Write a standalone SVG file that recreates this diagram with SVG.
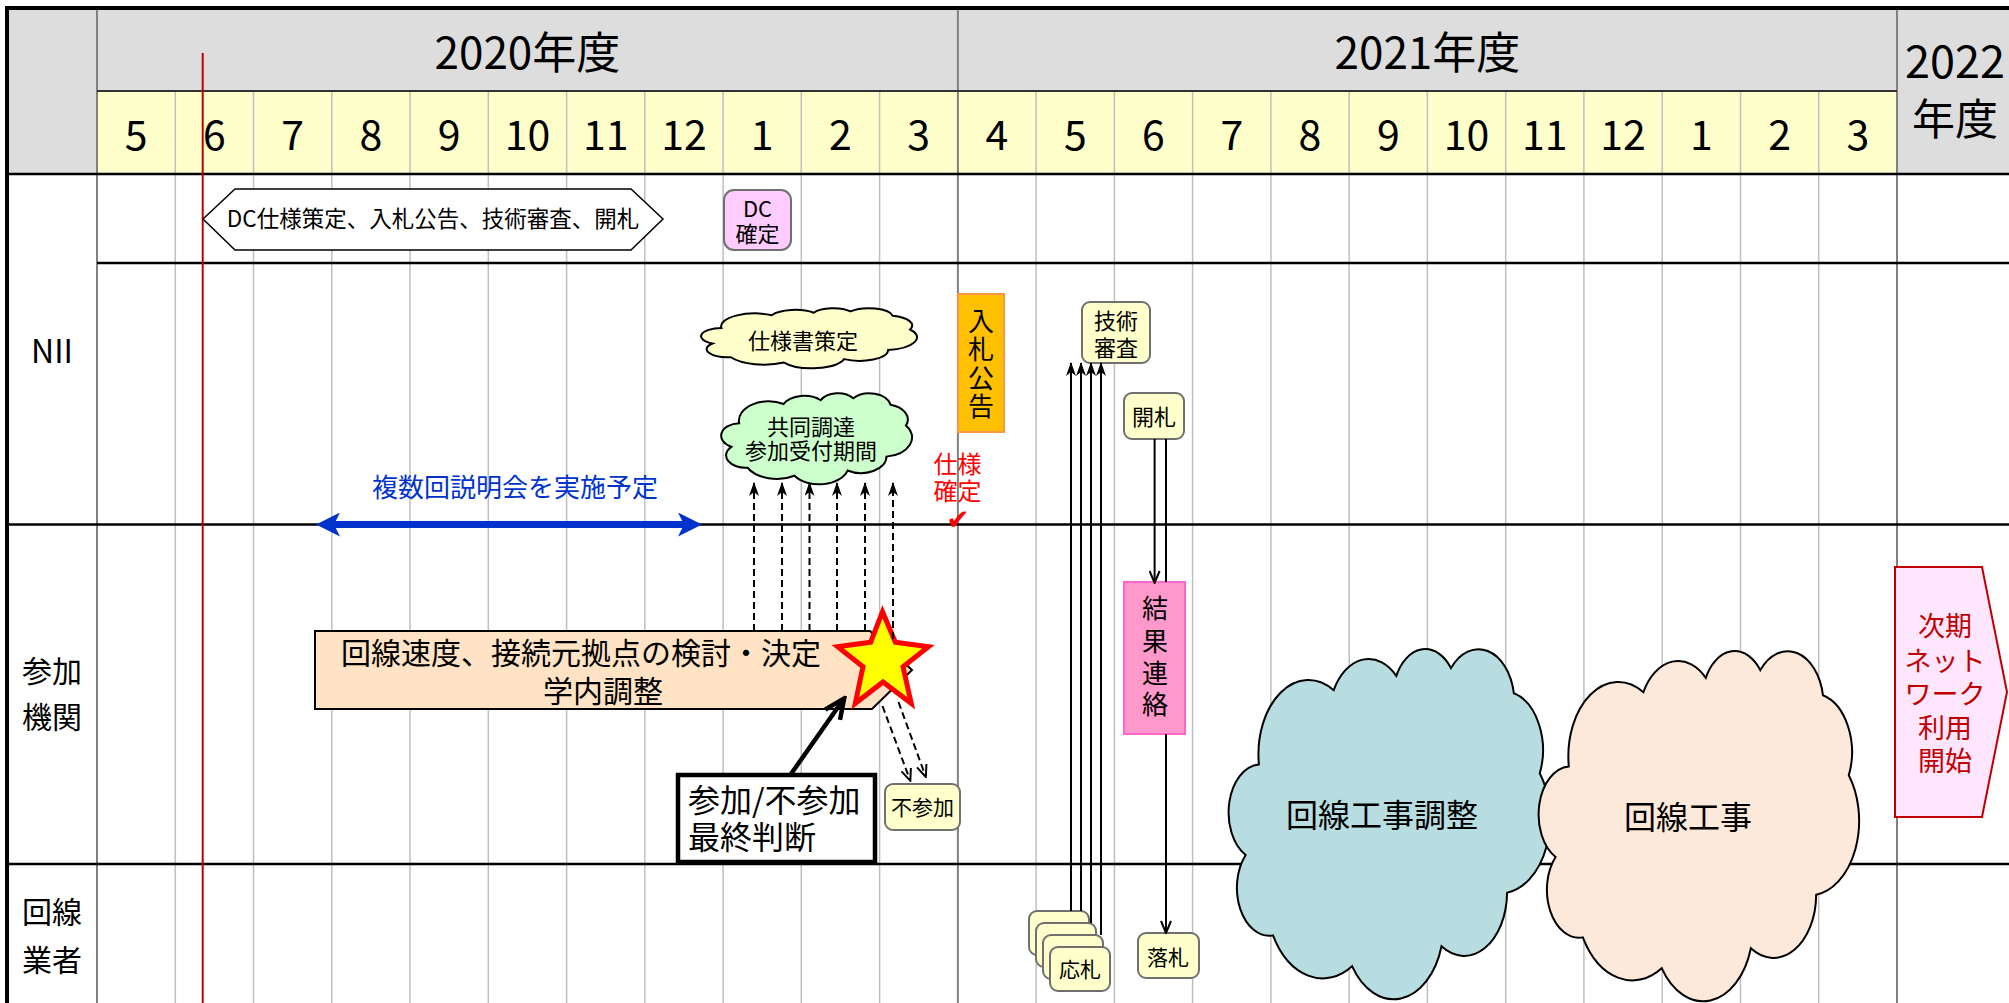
<svg xmlns="http://www.w3.org/2000/svg" width="2009" height="1003" viewBox="0 0 2009 1003">
<style>
.t{font-family:"Noto Sans CJK JP","Noto Sans",sans-serif;fill:#000}
.c{text-anchor:middle}
.grid{stroke:#BFBFBF;stroke-width:1.5}
.dark{stroke:#808080;stroke-width:2}
.hl{stroke:#000;fill:none}
.ybox{fill:#FFFFCC;stroke:#707070;stroke-width:2}
.dash{stroke:#000;stroke-width:2;stroke-dasharray:7,4;fill:none}
.solid{stroke:#000;stroke-width:2;fill:none}
.chk{font-family:"DejaVu Sans",sans-serif;font-size:28px;fill:#FF0000;text-anchor:middle}
</style>
<defs>
<path id="cloud" d="M9.03,33.26 A15.63,21.27 0 0 1 32.42,12.04 A12.35,16.82 0 0 1 51.98,7.95 A10.10,13.76 0 0 1 69.06,5.75 A11.24,15.27 0 0 1 88.70,12.92 A12.35,16.84 0 0 1 96.80,35.80 A15.68,21.34 0 0 1 86.58,69.92 A13.39,18.21 0 0 1 66.10,85.22 A15.63,21.33 0 0 1 38.15,90.90 A17.87,24.41 0 0 1 13.43,82.11 A10.09,13.70 0 0 1 4.89,59.14 A10.06,13.76 0 0 1 9.03,33.26 Z" stroke="#000" stroke-width="2" vector-effect="non-scaling-stroke"/>
<marker id="stealth" viewBox="0 0 14 10" refX="13" refY="5" markerWidth="14" markerHeight="10" markerUnits="userSpaceOnUse" orient="auto"><path d="M0,0 L14,5 L0,10 L4,5 Z" fill="#000"/></marker>
<marker id="vopen" viewBox="0 0 14 12" refX="12" refY="6" markerWidth="14" markerHeight="12" markerUnits="userSpaceOnUse" orient="auto"><path d="M1,1 L13,6 L1,11" fill="none" stroke="#000" stroke-width="2"/></marker>
<marker id="vbig" viewBox="0 0 26 22" refX="21" refY="11" markerWidth="26" markerHeight="22" markerUnits="userSpaceOnUse" orient="auto"><path d="M3,2 L23,11 L3,20" fill="none" stroke="#000" stroke-width="4.5"/></marker>
<marker id="bluehead" viewBox="0 0 24 24" refX="10" refY="12" markerWidth="24" markerHeight="24" markerUnits="userSpaceOnUse" orient="auto-start-reverse"><path d="M0,0 L24,12 L0,24 L6,12 Z" fill="#0033CC"/></marker>
</defs>

<g id="table">
<rect x="0" y="0" width="2009" height="1003" fill="#FFFFFF"/>
<rect x="7" y="8" width="90" height="166" fill="#DDDDDD"/>
<rect x="97" y="8" width="1800" height="83" fill="#DDDDDD"/>
<rect x="97" y="91" width="1800" height="83" fill="#FFFFCC"/>
<rect x="1897" y="8" width="112" height="166" fill="#DDDDDD"/>
<g class="grid">
<line x1="175.3" y1="91" x2="175.3" y2="1003"/><line x1="253.5" y1="91" x2="253.5" y2="1003"/>
<line x1="331.8" y1="91" x2="331.8" y2="1003"/><line x1="410" y1="91" x2="410" y2="1003"/>
<line x1="488.3" y1="91" x2="488.3" y2="1003"/><line x1="566.6" y1="91" x2="566.6" y2="1003"/>
<line x1="644.8" y1="91" x2="644.8" y2="1003"/><line x1="723.1" y1="91" x2="723.1" y2="1003"/>
<line x1="801.3" y1="91" x2="801.3" y2="1003"/><line x1="879.6" y1="91" x2="879.6" y2="1003"/>
<line x1="1036.1" y1="91" x2="1036.1" y2="1003"/><line x1="1114.4" y1="91" x2="1114.4" y2="1003"/>
<line x1="1192.6" y1="91" x2="1192.6" y2="1003"/><line x1="1270.9" y1="91" x2="1270.9" y2="1003"/>
<line x1="1349.2" y1="91" x2="1349.2" y2="1003"/><line x1="1427.4" y1="91" x2="1427.4" y2="1003"/>
<line x1="1505.7" y1="91" x2="1505.7" y2="1003"/><line x1="1583.9" y1="91" x2="1583.9" y2="1003"/>
<line x1="1662.2" y1="91" x2="1662.2" y2="1003"/><line x1="1740.5" y1="91" x2="1740.5" y2="1003"/>
<line x1="1818.7" y1="91" x2="1818.7" y2="1003"/>
</g>
<g class="dark">
<line x1="97" y1="8" x2="97" y2="1003"/>
<line x1="957.9" y1="8" x2="957.9" y2="1003"/>
<line x1="1897" y1="8" x2="1897" y2="1003"/>
</g>
<line x1="97" y1="91" x2="1897" y2="91" stroke="#333" stroke-width="2"/>
<line x1="7" y1="174" x2="2009" y2="174" class="hl" stroke-width="2.5"/>
<line x1="97" y1="263" x2="2009" y2="263" class="hl" stroke-width="2.5"/>
<line x1="7" y1="524.5" x2="2009" y2="524.5" class="hl" stroke-width="2.5"/>
<line x1="7" y1="864" x2="2009" y2="864" class="hl" stroke-width="2.5"/>
<line x1="7" y1="8" x2="2009" y2="8" class="hl" stroke-width="4"/>
<line x1="7" y1="6" x2="7" y2="1003" class="hl" stroke-width="4"/>
<line x1="202.7" y1="53" x2="202.7" y2="1003" stroke="#C00000" stroke-width="2"/>
<g class="t c" font-size="44">
<text x="527.4" y="69">2020年度</text>
<text x="1427.4" y="69">2021年度</text>
</g>
<text class="t" font-size="45" x="1905" y="78">2022</text>
<text class="t c" font-size="43" x="1955" y="135">年度</text>
<g class="t c" font-size="41">
<text x="136.1" y="150">5</text><text x="214.4" y="150">6</text><text x="292.7" y="150">7</text>
<text x="370.9" y="150">8</text><text x="449.2" y="150">9</text><text x="527.4" y="150">10</text>
<text x="605.7" y="150">11</text><text x="684" y="150">12</text><text x="762.2" y="150">1</text>
<text x="840.5" y="150">2</text><text x="918.7" y="150">3</text><text x="997" y="150">4</text>
<text x="1075.3" y="150">5</text><text x="1153.5" y="150">6</text><text x="1231.8" y="150">7</text>
<text x="1310" y="150">8</text><text x="1388.3" y="150">9</text><text x="1466.6" y="150">10</text>
<text x="1544.8" y="150">11</text><text x="1623.1" y="150">12</text><text x="1701.3" y="150">1</text>
<text x="1779.6" y="150">2</text><text x="1857.9" y="150">3</text>
</g>
<text class="t c" font-size="32" x="52" y="363">NII</text>
<text class="t c" font-size="30" x="52" y="682">参加<tspan x="52" dy="46">機関</tspan></text>
<text class="t c" font-size="30" x="52" y="923">回線<tspan x="52" dy="48">業者</tspan></text>
</g>

<g id="n-dc-hex">
<polygon points="203,219 235,189 631,189 663,219 631,250 235,250" fill="#FFFFFF" stroke="#000" stroke-width="1.5"/>
<text class="t c" font-size="22.5" x="433" y="227">DC仕様策定、入札公告、技術審査、開札</text>
</g>
<g id="n-dc-kakutei">
<rect x="724" y="190" width="67" height="60" rx="10" fill="#FFCCFF" stroke="#707070" stroke-width="2"/>
<text class="t c" font-size="22" x="757.5" y="217">DC<tspan x="757.5" dy="24.5">確定</tspan></text>
</g>
<g id="n-shiyousho">
<use href="#cloud" transform="translate(702,308) scale(2.15,0.6)" fill="#FFFFCC"/>
<text class="t c" font-size="22" x="803" y="349">仕様書策定</text>
</g>
<g id="n-kyoudou">
<use href="#cloud" transform="translate(722,393) scale(1.9,0.91)" fill="#CCFFCC"/>
<text class="t c" font-size="22" x="811" y="435">共同調達<tspan x="811" dy="24">参加受付期間</tspan></text>
</g>
<g id="n-setsumeikai">
<line x1="330" y1="524.5" x2="688" y2="524.5" stroke="#0033CC" stroke-width="7" marker-start="url(#bluehead)" marker-end="url(#bluehead)"/>
<text class="t c" font-size="26" x="515" y="497" style="fill:#0033CC">複数回説明会を実施予定</text>
</g>
<g id="n-nyuusatsu">
<rect x="958" y="294" width="46" height="138" fill="#FFC000" stroke="#F79646" stroke-width="2"/>
<text class="t c" font-size="26" x="981" y="330.5">入<tspan x="981" dy="28.5">札</tspan><tspan x="981" dy="28.5">公</tspan><tspan x="981" dy="28.5">告</tspan></text>
</g>
<g id="n-shiyou-kakutei">
<text class="t c" font-size="24" x="957.5" y="472.5" style="fill:#FF0000">仕様<tspan x="957.5" dy="27">確定</tspan></text>
<text class="chk" x="958" y="529">✔</text>
</g>
<g id="n-gijutsu">
<rect x="1082" y="302" width="68" height="61" rx="8" class="ybox"/>
<text class="t c" font-size="22" x="1116" y="329">技術<tspan x="1116" dy="26.5">審査</tspan></text>
</g>
<g id="n-kaisatsu">
<rect x="1124" y="393" width="60" height="46" rx="8" class="ybox"/>
<text class="t c" font-size="22" x="1154" y="425">開札</text>
</g>
<g id="n-kekka">
<rect x="1124" y="582" width="61" height="152" fill="#FF99CC" stroke="#FF66CC" stroke-width="2"/>
<text class="t c" font-size="26" x="1155" y="618">結<tspan x="1155" dy="32.5">果</tspan><tspan x="1155" dy="32">連</tspan><tspan x="1155" dy="31.5">絡</tspan></text>
</g>
<g id="n-rakusatsu">
<rect x="1138" y="933" width="61" height="45" rx="8" class="ybox"/>
<text class="t c" font-size="21" x="1168" y="965">落札</text>
</g>
<g id="n-ousatsu">
<rect x="1029" y="911" width="60" height="44" rx="8" class="ybox"/>
<rect x="1036" y="923" width="60" height="44" rx="8" class="ybox"/>
<rect x="1043" y="935" width="60" height="44" rx="8" class="ybox"/>
<rect x="1050" y="947" width="60" height="44" rx="8" class="ybox"/>
<text class="t c" font-size="21" x="1080" y="977">応札</text>
</g>
<g id="n-kaisen">
<polygon points="315,631 870,631 912,670 872,709 315,709" fill="#FFE3C4" stroke="#000" stroke-width="2"/>
<text class="t c" font-size="30" x="581" y="663.5">回線速度、接続元拠点の検討・決定<tspan x="603" dy="38">学内調整</tspan></text>
</g>
<g id="n-star">
<polygon points="882.5,611.7 895.3,642.2 928.5,646.7 903,666.8 911.2,703.3 883,682 855.3,703.3 863,666.8 837.6,646.7 870.7,642.2" fill="#FFFF00" stroke="#FF0000" stroke-width="5"/>
</g>
<g id="n-sanka">
<rect x="678" y="775" width="197" height="87" fill="#FFFFFF" stroke="#000" stroke-width="4.5"/>
<text class="t" font-size="32" x="688" y="811.5">参加/不参加<tspan x="688" dy="37.5">最終判断</tspan></text>
</g>
<g id="n-fusanka">
<rect x="885" y="784" width="75" height="46" rx="8" class="ybox"/>
<text class="t c" font-size="21" x="922.5" y="815">不参加</text>
</g>
<g id="n-cloud1">
<use href="#cloud" transform="translate(1230,648) scale(3.2,3.5)" fill="#B7DDE0"/>
<text class="t c" font-size="32" x="1382" y="827">回線工事調整</text>
</g>
<g id="n-cloud2">
<use href="#cloud" transform="translate(1540,650) scale(3.19,3.5)" fill="#FDE9D9"/>
<text class="t c" font-size="32" x="1688" y="829">回線工事</text>
</g>
<g id="n-jiki">
<polygon points="1895,567 1982,567 2007,692 1982,817 1895,817" fill="#FFE6FF" stroke="#C00000" stroke-width="2"/>
<text class="t c" font-size="27" x="1945" y="635.7" style="fill:#C00000">次期<tspan x="1945" dy="35">ネット</tspan><tspan x="1945" dy="33">ワーク</tspan><tspan x="1945" dy="34">利用</tspan><tspan x="1945" dy="33">開始</tspan></text>
</g>

<g id="connectors">
<path class="dash" d="M754,631 V483" marker-end="url(#stealth)"/>
<path class="dash" d="M782,631 V483" marker-end="url(#stealth)"/>
<path class="dash" d="M809.5,631 V483" marker-end="url(#stealth)"/>
<path class="dash" d="M837,631 V483" marker-end="url(#stealth)"/>
<path class="dash" d="M865,631 V483" marker-end="url(#stealth)"/>
<path class="dash" d="M893,639 V483" marker-end="url(#stealth)"/>
<path class="solid" d="M1071,911 V363" marker-end="url(#stealth)"/>
<path class="solid" d="M1081,911 V363" marker-end="url(#stealth)"/>
<path class="solid" d="M1091,923 V363" marker-end="url(#stealth)"/>
<path class="solid" d="M1101,935 V363" marker-end="url(#stealth)"/>
<path class="solid" d="M1154.6,439 V582" marker-end="url(#vopen)"/>
<path class="solid" d="M1166,439 V582 M1166,734 V932" marker-end="url(#vopen)"/>
<path d="M791,774 L843,700" stroke="#000" stroke-width="4.5" fill="none" marker-end="url(#vbig)"/>
<path class="dash" d="M882.5,706 L910,780" marker-end="url(#vopen)"/>
<path class="dash" d="M898.5,702 L925.5,776" marker-end="url(#vopen)"/>
</g>
</svg>
